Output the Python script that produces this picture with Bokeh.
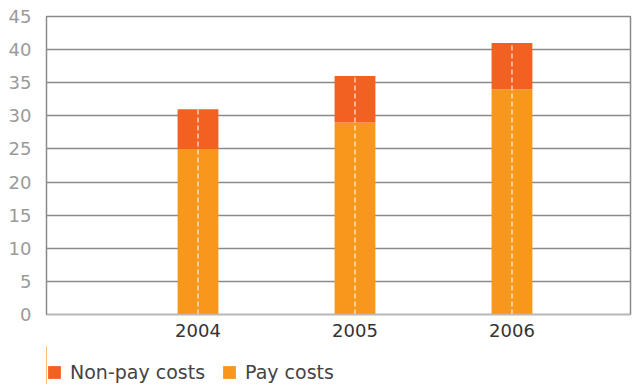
from bokeh.plotting import figure
from bokeh.layouts import column
from bokeh.models import Range1d, FixedTicker, Legend, LegendItem, ColumnDataSource
from bokeh.embed import file_html
from bokeh.resources import INLINE

years = [2004, 2005, 2006]
year_labels = ["2004", "2005", "2006"]
pay_costs = [25, 29, 34]
non_pay_costs = [6, 7, 7]
y_ticks = [0, 5, 10, 15, 20, 25, 30, 35, 40, 45]
series_names = ["Non-pay costs", "Pay costs"]

PAY = "#F7981D"
NONPAY = "#F26122"
FONT = "DejaVu Sans"

tops = [a + b for a, b in zip(pay_costs, non_pay_costs)]
src = ColumnDataSource(dict(x=years, pay=pay_costs, top=tops, zero=[0] * len(years)))

p = figure(frame_width=584, frame_height=298, output_backend="svg", toolbar_location=None,
           x_range=Range1d(2003.035, 2006.755), y_range=Range1d(0, 45),
           min_border_left=46, min_border_right=2, min_border_top=16, min_border_bottom=32)

r_pay = p.vbar(x="x", bottom="zero", top="pay", width=0.26, source=src,
               fill_color=PAY, line_color=None)
r_non = p.vbar(x="x", bottom="pay", top="top", width=0.26, source=src,
               fill_color=NONPAY, line_color=None)
p.segment(x0="x", y0="zero", x1="x", y1="top", source=src,
          line_color="white", line_alpha=0.7, line_width=1.5, line_dash="5 3")

p.outline_line_color = "#8a8a8a"
p.outline_line_width = 1.5

p.xgrid.visible = False
p.ygrid.ticker = FixedTicker(ticks=y_ticks)
p.ygrid.grid_line_color = "#8a8a8a"
p.ygrid.grid_line_width = 1.5

p.yaxis.ticker = FixedTicker(ticks=y_ticks)
p.yaxis.axis_line_color = "#8a8a8a"
p.yaxis.major_tick_line_color = None
p.yaxis.minor_tick_line_color = None
p.yaxis.major_label_text_color = "#9a9a9a"
p.yaxis.major_label_text_font = FONT
p.yaxis.major_label_text_font_size = "18px"
p.yaxis.major_label_standoff = 9

p.xaxis.ticker = FixedTicker(ticks=years)
p.xaxis.major_label_overrides = {y: l for y, l in zip(years, year_labels)}
p.xaxis.axis_line_color = "#bbbbbb"
p.xaxis.axis_line_width = 1.5
p.xaxis.major_tick_line_color = None
p.xaxis.minor_tick_line_color = None
p.xaxis.major_label_text_color = "#333333"
p.xaxis.major_label_text_font = FONT
p.xaxis.major_label_text_font_size = "18px"
p.xaxis.major_label_standoff = 3

# legend strip below the chart (its glyphs reuse the same data, kept out of view)
lg = figure(width=632, height=38, output_backend="svg", toolbar_location=None,
            x_range=Range1d(2010, 2011), y_range=Range1d(0, 1),
            x_axis_location=None, y_axis_location=None,
            min_border=0)
lg.outline_line_color = None
lg.grid.visible = False
g_non = lg.vbar(x="x", bottom="pay", top="top", width=0.26, source=src,
                fill_color=NONPAY, line_color=None)
g_pay = lg.vbar(x="x", bottom="zero", top="pay", width=0.26, source=src,
                fill_color=PAY, line_color=None)

legend = Legend(items=[LegendItem(label=series_names[0], renderers=[g_non]),
                       LegendItem(label=series_names[1], renderers=[g_pay])],
                orientation="horizontal", location=(0, 1),
                label_text_font=FONT, label_text_font_size="19px",
                label_text_color="#444444", glyph_width=16, glyph_height=16,
                spacing=16, label_standoff=8, padding=0, margin=0,
                border_line_color=None, background_fill_alpha=0)
lg.add_layout(legend, "center")

layout = column(p, lg, spacing=0)
open("out.html", "w").write(file_html(layout, INLINE))
